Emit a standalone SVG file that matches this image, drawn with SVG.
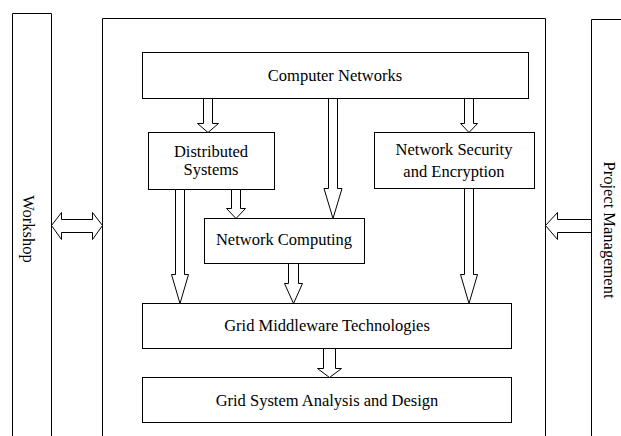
<svg xmlns="http://www.w3.org/2000/svg" width="621" height="436" viewBox="0 0 621 436">
<style>
.box{fill:#fff;stroke:#000;stroke-width:1}
.frame{fill:none;stroke:#000;stroke-width:1}
.arr{fill:#fff;stroke:#000;stroke-width:1;stroke-linejoin:miter}
text{font-family:"Liberation Serif","Times New Roman",serif;font-size:16.5px;fill:#000;text-anchor:middle}
</style>
<rect width="621" height="436" fill="#fff"/>
<g id="workshop">
<path class="frame" d="M12.5,436 V13.5 H51.5 V436"/>
<text transform="translate(28,229) rotate(90)" dy="5">Workshop</text>
</g>
<g id="project-management">
<path class="frame" d="M591.5,436 V19.5 H621"/>
<text transform="translate(609,230) rotate(90)" dy="5">Project Management</text>
</g>
<g id="main-frame">
<path class="frame" d="M102.5,436 V18.5 H545.5 V436"/>
</g>
<g id="computer-networks">
<rect class="box" x="142.5" y="52.5" width="386" height="46"/>
<text x="335" y="81">Computer Networks</text>
</g>
<g id="distributed-systems">
<rect class="box" x="148.5" y="132.5" width="126" height="57"/>
<text x="211" y="157">Distributed</text>
<text x="211" y="175">Systems</text>
</g>
<g id="network-security">
<rect class="box" x="374.5" y="132.5" width="160" height="56"/>
<text x="454" y="155">Network Security</text>
<text x="454" y="177">and Encryption</text>
</g>
<g id="network-computing">
<rect class="box" x="204.5" y="218.5" width="160" height="45"/>
<text x="284" y="245">Network Computing</text>
</g>
<g id="grid-middleware">
<rect class="box" x="142.5" y="303.5" width="369" height="45"/>
<text x="327" y="331">Grid Middleware Technologies</text>
</g>
<g id="grid-system">
<rect class="box" x="142.5" y="377.5" width="369" height="45"/>
<text x="327" y="406">Grid System Analysis and Design</text>
</g>
<g id="connectors">
<polygon class="arr" points="203.5,98.5 212.5,98.5 212.5,123.5 218.5,123.5 208,132.5 197.5,123.5 203.5,123.5"/>
<polygon class="arr" points="328.5,98.5 337.5,98.5 337.5,188.5 342,188.5 333,218.5 324,188.5 328.5,188.5"/>
<polygon class="arr" points="464.5,98.5 473.5,98.5 473.5,123.5 477.5,123.5 469,132.5 460.5,123.5 464.5,123.5"/>
<polygon class="arr" points="231.5,189.5 240.5,189.5 240.5,208.5 245.5,208.5 236,218.5 226.5,208.5 231.5,208.5"/>
<polygon class="arr" points="175.5,189.5 184.5,189.5 184.5,274.5 188.5,274.5 180,303.5 171.5,274.5 175.5,274.5"/>
<polygon class="arr" points="288.5,263.5 298.5,263.5 298.5,283.5 302.5,283.5 293.5,303.5 284.5,283.5 288.5,283.5"/>
<polygon class="arr" points="464.5,188.5 473.5,188.5 473.5,274.5 477.5,274.5 469,303.5 460.5,274.5 464.5,274.5"/>
<polygon class="arr" points="323.5,348.5 335.5,348.5 335.5,368.5 341.5,368.5 329.5,377.5 317.5,368.5 323.5,368.5"/>
<polygon class="arr" points="51.5,225.5 61.5,212.5 61.5,219.5 92.5,219.5 92.5,212.5 102.5,225.5 92.5,239.5 92.5,232.5 61.5,232.5 61.5,239.5"/>
<polygon class="arr" points="545.5,225.5 557.5,212.5 557.5,219.5 591.5,219.5 591.5,232.5 557.5,232.5 557.5,239.5"/>
</g>
</svg>
